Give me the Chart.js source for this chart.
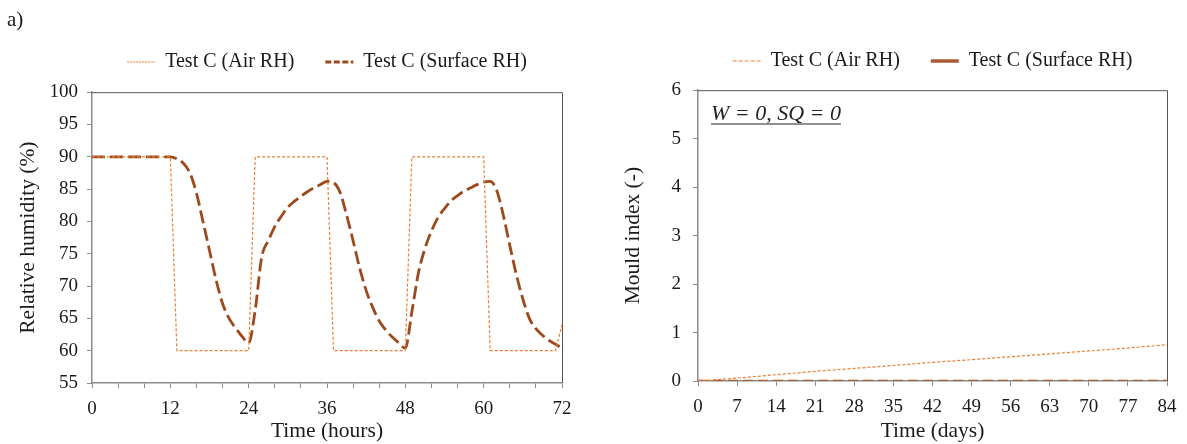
<!DOCTYPE html>
<html>
<head>
<meta charset="utf-8">
<script src="https://cdn.jsdelivr.net/npm/chart.js@4"></script>
<style>
    body { margin: 0; background: #fff; width: 1187px; height: 444px; position: relative; overflow: hidden; }
    .box { position: absolute; top: 0; height: 444px; }
</style>
</head>
<body>
<div class="box" style="left:0;width:590px"><canvas id="rhChart" width="590" height="444"></canvas></div>
<div class="box" style="left:590px;width:597px"><canvas id="mouldChart" width="597" height="444"></canvas></div>
<script>
// Left chart: relative humidity over 72 hours
const hours = [0,1,2,3,4,5,6,7,8,9,10,11,12,13,14,15,16,17,18,19,20,21,22,23,24,25,26,27,28,29,30,31,32,33,34,35,36,
    37,38,39,40,41,42,43,44,45,46,47,48,49,50,51,52,53,54,55,56,57,58,59,60,61,62,63,64,65,66,67,68,69,70,71,72];
const airRH = [90,90,90,90,90,90,90,90,90,90,90,90,90,60,60,60,60,60,60,60,60,60,60,60,60,90,90,90,90,90,90,90,90,90,90,90,90,
    60,60,60,60,60,60,60,60,60,60,60,60,90,90,90,90,90,90,90,90,90,90,90,90,60,60,60,60,60,60,60,60,60,60,60,64];
const surfaceRH = [90,90,90,90,90,90,90,90,90,90,90,90,90,89.7,89,87.5,84.4,80,75.5,71,67.3,65,63.5,62.2,61.2,66.3,74.5,77,79.2,80.8,82.2,83.1,83.9,84.6,85.2,85.7,86.2,
    86,84.5,81,77,72.8,69.3,66.7,64.6,63.2,62.1,61.2,60.4,66,72,75.8,78.5,80.6,82,83.2,84,84.7,85.2,85.7,86.1,
    86.2,84.8,81,76.3,71.8,68,65,63.4,62.4,61.6,61,60.4];

// Right chart: mould index over 84 days
const days = [0,7,14,21,28,35,42,49,56,63,70,77,84];
const mouldAir = [0,0.06,0.13,0.2,0.26,0.32,0.385,0.44,0.5,0.56,0.62,0.68,0.75];
const mouldSurface = [0,0,0,0,0,0,0,0,0,0,0,0,0];

const serif = "'Liberation Serif', 'Times New Roman', serif";
Chart.defaults.font.family = serif;
Chart.defaults.color = '#1a1a1a';

const orange = '#ED7D31';
const brown = '#9C4A1C';
const axisGrey = '#8c8c8c';

function toPoints(xs, ys) {
    return xs.map((x, i) => ({x: x, y: ys[i]}));
}

// top and right border of the plot
const frame = {
    id: 'frame',
    beforeDatasetsDraw(chart) {
        const a = chart.chartArea;
        const ctx = chart.ctx;
        ctx.save();
        ctx.strokeStyle = '#555';
        ctx.lineWidth = 1;
        ctx.beginPath();
        ctx.moveTo(a.left, a.top + 0.5);
        ctx.lineTo(a.right + 0.5, a.top + 0.5);
        ctx.lineTo(a.right + 0.5, a.bottom);
        ctx.stroke();
        ctx.restore();
    }
};

const panelLabel = {
    id: 'panelLabel',
    afterDraw(chart) {
        const ctx = chart.ctx;
        ctx.save();
        ctx.font = '21px ' + serif;
        ctx.fillStyle = '#1a1a1a';
        ctx.textBaseline = 'middle';
        ctx.fillText('a)', 7, 20);
        ctx.restore();
    }
};

const note = {
    id: 'note',
    afterDraw(chart) {
        const ctx = chart.ctx;
        const txt = 'W = 0, SQ = 0';
        const x = chart.chartArea.left + 13;
        const y = 120;
        ctx.save();
        ctx.font = 'italic 22px ' + serif;
        ctx.fillStyle = '#222';
        ctx.textBaseline = 'alphabetic';
        ctx.fillText(txt, x, y);
        const w = ctx.measureText(txt).width;
        ctx.strokeStyle = '#222';
        ctx.lineWidth = 1.2;
        ctx.beginPath();
        ctx.moveTo(x, y + 4);
        ctx.lineTo(x + w, y + 4);
        ctx.stroke();
        ctx.restore();
    }
};

// legend lines use each dataset's own legend dash/width
function legendItems(chart) {
    const items = Chart.defaults.plugins.legend.labels.generateLabels(chart);
    items.forEach((it, i) => {
        const ds = chart.data.datasets[i];
        it.lineDash = ds.legendDash || [];
        it.lineWidth = ds.legendWidth || ds.borderWidth;
        it.strokeStyle = ds.borderColor;
    });
    return items;
}

function axisStyle(extra) {
    return Object.assign({
        type: 'linear',
        grid: {display: true, drawOnChartArea: false, drawTicks: true, tickLength: 5, color: axisGrey},
        border: {color: axisGrey, width: 1.5},
    }, extra);
}

function plugins(top) {
    return {
        legend: {
            fullSize: false,
            labels: {
                usePointStyle: true,
                pointStyle: 'line',
                pointStyleWidth: 28,
                padding: 31,
                color: '#1a1a1a',
                font: {size: 20},
                generateLabels: legendItems
            }
        },
        // empty spacer between legend and plot
        title: {display: true, text: '', weight: 500, font: {size: 1}, padding: {top: top, bottom: 0}},
        tooltip: {enabled: false}
    };
}

new Chart(document.getElementById('rhChart'), {
    type: 'line',
    data: {
        datasets: [{
            label: 'Test C (Air RH)',
            data: toPoints(hours, airRH),
            borderColor: orange,
            borderWidth: 1.2,
            borderDash: [3, 2],
            legendDash: [2, 1],
            legendWidth: 1,
            pointRadius: 0,
            tension: 0
        }, {
            label: 'Test C (Surface RH)',
            data: toPoints(hours, surfaceRH),
            borderColor: brown,
            borderWidth: 2.8,
            borderDash: [13, 5],
            legendDash: [6, 2.5],
            pointRadius: 0,
            cubicInterpolationMode: 'monotone'
        }]
    },
    options: {
        responsive: false,
        animation: false,
        layout: {padding: {left: 0, right: 28, top: 21, bottom: 0}},
        plugins: plugins(9),
        scales: {
            x: axisStyle({
                min: 0, max: 72,
                ticks: {stepSize: 4, autoSkip: false, maxRotation: 0, padding: 10, font: {size: 19},
                    callback: v => (v % 12 === 0 ? v : '')},
                title: {display: true, text: 'Time (hours)', font: {size: 21.5}, padding: {top: 0, bottom: 0}},
                afterFit: s => { s.height = 61; }
            }),
            y: axisStyle({
                min: 55, max: 100,
                ticks: {stepSize: 5, padding: 9, font: {size: 19}},
                title: {display: true, text: 'Relative humidity (%)', font: {size: 21.5}, padding: {top: 15, bottom: 0}},
                afterFit: s => { s.width = 92; }
            })
        }
    },
    plugins: [frame, panelLabel]
});

new Chart(document.getElementById('mouldChart'), {
    type: 'line',
    data: {
        datasets: [{
            label: 'Test C (Air RH)',
            data: toPoints(days, mouldAir),
            borderColor: orange,
            borderWidth: 1.2,
            borderDash: [3, 2],
            legendDash: [4, 2],
            pointRadius: 0,
            tension: 0
        }, {
            label: 'Test C (Surface RH)',
            data: toPoints(days, mouldSurface),
            borderColor: '#A85A30',
            borderWidth: 2.6,
            borderDash: [10, 5],
            legendDash: [],
            legendWidth: 3.5,
            pointRadius: 0,
            tension: 0
        }]
    },
    options: {
        responsive: false,
        animation: false,
        layout: {padding: {left: 0, right: 20, top: 20, bottom: 0}},
        plugins: plugins(8),
        scales: {
            x: axisStyle({
                min: 0, max: 84,
                ticks: {stepSize: 7, autoSkip: false, maxRotation: 0, padding: 10, font: {size: 19}},
                title: {display: true, text: 'Time (days)', font: {size: 21.5}, padding: {top: 0, bottom: 0}},
                afterFit: s => { s.height = 63; }
            }),
            y: axisStyle({
                min: 0, max: 6,
                ticks: {stepSize: 1, padding: 12, font: {size: 19}},
                title: {display: true, text: 'Mould index (-)', font: {size: 21.5}, padding: {top: 30, bottom: 0}},
                afterFit: s => { s.width = 108; }
            })
        }
    },
    plugins: [frame, note]
});
</script>
</body>
</html>
